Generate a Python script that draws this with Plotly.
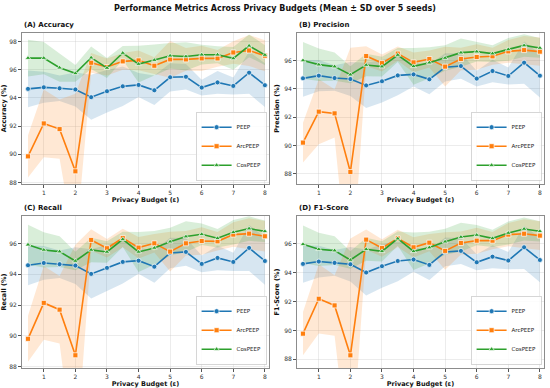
import plotly.graph_objects as go

budgets = [0.5, 1, 1.5, 2, 2.5, 3, 3.5, 4, 4.5, 5, 5.5, 6, 6.5, 7, 7.5, 8]
methods = ["PEEP", "ArcPEEP", "CosPEEP"]

acc_peep = [94.64, 94.75, 94.68, 94.60, 94.05, 94.47, 94.82, 94.92, 94.54, 95.46, 95.50, 94.73, 95.10, 94.85, 95.79, 94.90]
acc_arc = [89.86, 92.19, 91.79, 88.80, 96.49, 96.19, 96.59, 96.66, 96.28, 96.73, 96.73, 96.80, 96.80, 97.22, 97.36, 96.99]
acc_cos = [96.82, 96.82, 96.14, 95.74, 96.85, 96.12, 97.18, 96.40, 96.68, 96.99, 96.94, 97.06, 97.06, 96.80, 97.69, 97.04]

prec_peep = [94.75, 94.94, 94.77, 94.70, 94.25, 94.54, 94.96, 95.03, 94.68, 95.53, 95.62, 94.73, 95.27, 94.92, 95.86, 94.94]
prec_arc = [90.20, 92.39, 92.27, 88.12, 96.33, 95.83, 96.50, 95.88, 96.12, 95.58, 96.12, 96.26, 96.31, 96.66, 96.75, 96.64]
prec_cos = [96.02, 95.72, 95.58, 95.01, 95.69, 95.58, 96.40, 95.60, 95.86, 96.19, 96.57, 96.64, 96.50, 96.80, 97.08, 96.90]

rec_peep = [94.59, 94.74, 94.66, 94.57, 94.03, 94.42, 94.81, 94.89, 94.50, 95.39, 95.46, 94.68, 95.07, 94.81, 95.72, 94.87]
rec_arc = [89.80, 92.14, 91.70, 88.73, 96.24, 95.70, 96.37, 95.74, 96.02, 95.48, 96.02, 96.17, 96.15, 96.59, 96.65, 96.48]
rec_cos = [95.93, 95.59, 95.48, 94.87, 95.59, 95.46, 96.28, 95.46, 95.72, 96.13, 96.46, 96.61, 96.35, 96.74, 96.98, 96.80]

f1_peep = [94.62, 94.78, 94.69, 94.59, 94.02, 94.46, 94.82, 94.92, 94.55, 95.45, 95.52, 94.73, 95.12, 94.85, 95.77, 94.89]
f1_arc = [89.78, 92.20, 91.74, 88.28, 96.30, 95.72, 96.39, 95.77, 96.09, 95.52, 96.07, 96.23, 96.23, 96.65, 96.71, 96.58]
f1_cos = [95.98, 95.63, 95.54, 94.89, 95.63, 95.49, 96.37, 95.49, 95.75, 96.16, 96.48, 96.62, 96.39, 96.76, 97.04, 96.88]

peep_sd = [1.3, 1.1, 0.9, 1.2, 1.6, 1.5, 1.4, 0.85, 1.05, 1.0, 0.9, 0.55, 0.8, 0.6, 1.5, 1.55]
cos_sd = [1.3, 1.15, 1.0, 0.6, 0.8, 0.7, 0.5, 1.3, 1.1, 0.9, 1.0, 0.7, 0.6, 0.8, 0.8, 0.7]
arc_sd_acc = [1.5, 2.4, 2.1, 5.5, 0.7, 0.6, 0.6, 0.7, 0.6, 1.3, 0.8, 0.9, 0.6, 0.8, 1.1, 1.1]
arc_sd_prec = [1.4, 2.3, 1.7, 8.8, 0.7, 0.6, 0.5, 0.7, 0.6, 1.4, 0.8, 0.9, 0.6, 0.8, 1.0, 1.0]
arc_sd_rec = [1.5, 2.4, 2.2, 7.2, 0.7, 0.6, 0.6, 0.7, 0.6, 1.3, 0.8, 0.9, 0.6, 0.8, 1.0, 1.0]
arc_sd_f1 = [1.5, 2.4, 2.1, 8.1, 0.7, 0.6, 0.6, 0.7, 0.6, 1.3, 0.8, 0.9, 0.6, 0.8, 1.0, 1.0]

panel_titles = ["(A) Accuracy", "(B) Precision", "(C) Recall", "(D) F1-Score"]
y_titles = ["Accuracy (%)", "Precision (%)", "Recall (%)", "F1-Score (%)"]
x_title = "Privacy Budget (ε)"
main_title = "Performance Metrics Across Privacy Budgets (Mean ± SD over 5 seeds)"
x_ticks = [1, 2, 3, 4, 5, 6, 7, 8]

panels = [
    ([acc_peep, acc_arc, acc_cos], [peep_sd, arc_sd_acc, cos_sd], [87.9, 98.6], [88, 90, 92, 94, 96, 98]),
    ([prec_peep, prec_arc, prec_cos], [peep_sd, arc_sd_prec, cos_sd], [87.27, 97.96], [88, 90, 92, 94, 96]),
    ([rec_peep, rec_arc, rec_cos], [peep_sd, arc_sd_rec, cos_sd], [87.9, 97.8], [88, 90, 92, 94, 96]),
    ([f1_peep, f1_arc, f1_cos], [peep_sd, arc_sd_f1, cos_sd], [87.4, 97.94], [88, 90, 92, 94, 96]),
]

colors = ["#1f77b4", "#ff7f0e", "#2ca02c"]
fills = ["rgba(31,119,180,0.18)", "rgba(255,127,14,0.18)", "rgba(44,160,44,0.18)"]
symbols = ["circle", "square", "triangle-up"]

W, H = 550, 388
xdoms = [[22 / W, 269 / W], [297 / W, 544 / W]]
ydoms = [[1 - 184 / H, 1 - 33 / H], [1 - 368 / H, 1 - 216 / H]]

fig = go.Figure()
layout = {}
annotations = []
for i, (means, sds, yr, yt) in enumerate(panels):
    r, c = divmod(i, 2)
    n = i + 1
    xa = "x" if n == 1 else f"x{n}"
    ya = "y" if n == 1 else f"y{n}"
    leg = "legend" if n == 1 else f"legend{n}"
    for m in range(3):
        mu = means[m]
        sd = sds[m]
        upper = [a + b for a, b in zip(mu, sd)]
        lower = [a - b for a, b in zip(mu, sd)]
        fig.add_trace(go.Scatter(
            x=budgets + budgets[::-1], y=upper + lower[::-1],
            fill="toself", fillcolor=fills[m], line=dict(width=0),
            mode="lines", hoverinfo="skip", showlegend=False,
            xaxis=xa, yaxis=ya))
    for m in range(3):
        fig.add_trace(go.Scatter(
            x=budgets, y=means[m], mode="lines+markers", name=methods[m],
            line=dict(color=colors[m], width=1.6),
            marker=dict(symbol=symbols[m], size=5, color=colors[m],
                        line=dict(color="white", width=0.7)),
            xaxis=xa, yaxis=ya, legend=leg, showlegend=True))
    axis_common = dict(showline=True, linecolor="#8c8c8c", linewidth=1, mirror=True,
                       gridcolor="rgba(200,200,200,0.35)", gridwidth=0.6,
                       ticks="outside", ticklen=3, tickcolor="#555555", tickwidth=0.8,
                       tickfont=dict(family="DejaVu Sans", size=6, color="#333333"),
                       zeroline=False, automargin=False)
    layout["xaxis" if n == 1 else f"xaxis{n}"] = dict(
        domain=xdoms[c], anchor=ya, range=[0.31, 8.13], tickvals=x_ticks,
        title=dict(text=f"<b>{x_title}</b>", font=dict(family="DejaVu Sans", size=6.5, color="#111"), standoff=2),
        **axis_common)
    layout["yaxis" if n == 1 else f"yaxis{n}"] = dict(
        domain=ydoms[r], anchor=xa, range=yr, tickvals=yt,
        title=dict(text=f"<b>{y_titles[i]}</b>", font=dict(family="DejaVu Sans", size=6.5, color="#111"), standoff=3),
        **axis_common)
    layout[leg] = dict(
        x=xdoms[c][1] - 0.004, y=ydoms[r][0] + 0.008, xanchor="right", yanchor="bottom",
        xref="paper", yref="paper",
        bgcolor="rgba(255,255,255,0.85)", bordercolor="#cccccc", borderwidth=0.8,
        font=dict(family="DejaVu Sans", size=5.5, color="#222"),
        itemwidth=30, tracegroupgap=0)
    annotations.append(dict(
        text=f"<b>{panel_titles[i]}</b>", x=xdoms[c][0], y=ydoms[r][1] + 0.004,
        xref="paper", yref="paper", xanchor="left", yanchor="bottom", showarrow=False,
        font=dict(family="DejaVu Sans", size=7, color="#111")))

annotations.append(dict(
    text=f"<b>{main_title}</b>", x=0.5, y=1 - 2 / H, xref="paper", yref="paper",
    xanchor="center", yanchor="top", showarrow=False,
    font=dict(family="DejaVu Sans", size=8, color="#111")))

fig.update_layout(
    width=W, height=H, margin=dict(l=0, r=0, t=0, b=0),
    paper_bgcolor="white", plot_bgcolor="white",
    annotations=annotations, **layout)

fig.write_html("out.html", config={"displayModeBar": False},
               post_script="document.body.style.margin='0';")
